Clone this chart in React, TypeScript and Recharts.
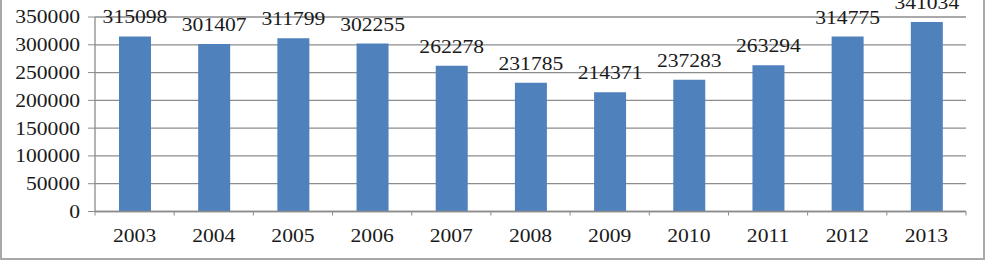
import { BarChart, Bar, XAxis, YAxis, CartesianGrid, LabelList } from "recharts";

const years = ["2003", "2004", "2005", "2006", "2007", "2008", "2009", "2010", "2011", "2012", "2013"];
const values = [315098, 301407, 311799, 302255, 262278, 231785, 214371, 237283, 263294, 314775, 341034];
const yTicks = [0, 50000, 100000, 150000, 200000, 250000, 300000, 350000];

const data = years.map((year, i) => ({ year, value: values[i] }));

const FONT = "Liberation Serif, Times New Roman, serif";
const TEXT_COLOR = "#1a1a1a";
const GRID = "#8c8c8c";
const STRETCH = 1.2;

// plot spans x 95 → 966, 11 categories
const HALF_BAND = (966 - 95) / 11 / 2;

const textStyle = { fontFamily: FONT, fontSize: 18, fill: TEXT_COLOR };

const XTick = (props: any) => {
    const { x, y, payload, index } = props;
    const axisY = y - 18;
    const last = index === years.length - 1;
    return (
        <g>
            <line x1={x - HALF_BAND} x2={x - HALF_BAND} y1={axisY} y2={axisY + 4} stroke={GRID} />
            {last && <line x1={x + HALF_BAND} x2={x + HALF_BAND} y1={axisY} y2={axisY + 4} stroke={GRID} />}
            <text
                transform={`translate(${x},${y}) scale(${STRETCH},1)`}
                dy="0.71em"
                textAnchor="middle"
                style={textStyle}
            >
                {payload.value}
            </text>
        </g>
    );
};

const YTick = (props: any) => {
    const { x, y, payload } = props;
    return (
        <text
            transform={`translate(${x},${y}) scale(${STRETCH},1)`}
            dy="0.355em"
            textAnchor="end"
            style={textStyle}
        >
            {payload.value}
        </text>
    );
};

const ValueLabel = (props: any) => {
    const { x, y, width, value } = props;
    return (
        <text
            transform={`translate(${x + width / 2},${y - 13}) scale(${STRETCH},1)`}
            textAnchor="middle"
            style={textStyle}
        >
            {value}
        </text>
    );
};

export default function App() {
    return (
        <div style={{ position: "absolute", left: 0, top: 0, width: 989, height: 261, background: "#fff", overflow: "hidden", fontFamily: FONT }}>
            <div
                style={{
                    position: "absolute",
                    left: 0,
                    top: -4,
                    width: 985,
                    height: 264,
                    border: "2px solid #a8a8a8",
                    boxSizing: "border-box",
                }}
            />
            <BarChart
                width={989}
                height={261}
                data={data}
                margin={{ top: 17, right: 23, left: 0, bottom: 19.5 }}
                style={{ position: "absolute", left: 0, top: 0 }}
            >
                <CartesianGrid vertical={false} stroke={GRID} strokeWidth={1.3} />
                <XAxis
                    dataKey="year"
                    height={30}
                    tickLine={false}
                    tickSize={4}
                    tickMargin={14}
                    axisLine={{ stroke: GRID, strokeWidth: 1.3 }}
                    tick={<XTick />}
                    interval={0}
                />
                <YAxis
                    width={95}
                    domain={[0, 350000]}
                    ticks={yTicks}
                    interval={0}
                    tickSize={7}
                    tickMargin={8}
                    tickLine={{ stroke: GRID }}
                    axisLine={{ stroke: GRID, strokeWidth: 1.3 }}
                    tick={<YTick />}
                />
                <Bar dataKey="value" fill="#4f81bd" barSize={32} isAnimationActive={false}>
                    <LabelList dataKey="value" content={<ValueLabel />} />
                </Bar>
            </BarChart>
        </div>
    );
}
